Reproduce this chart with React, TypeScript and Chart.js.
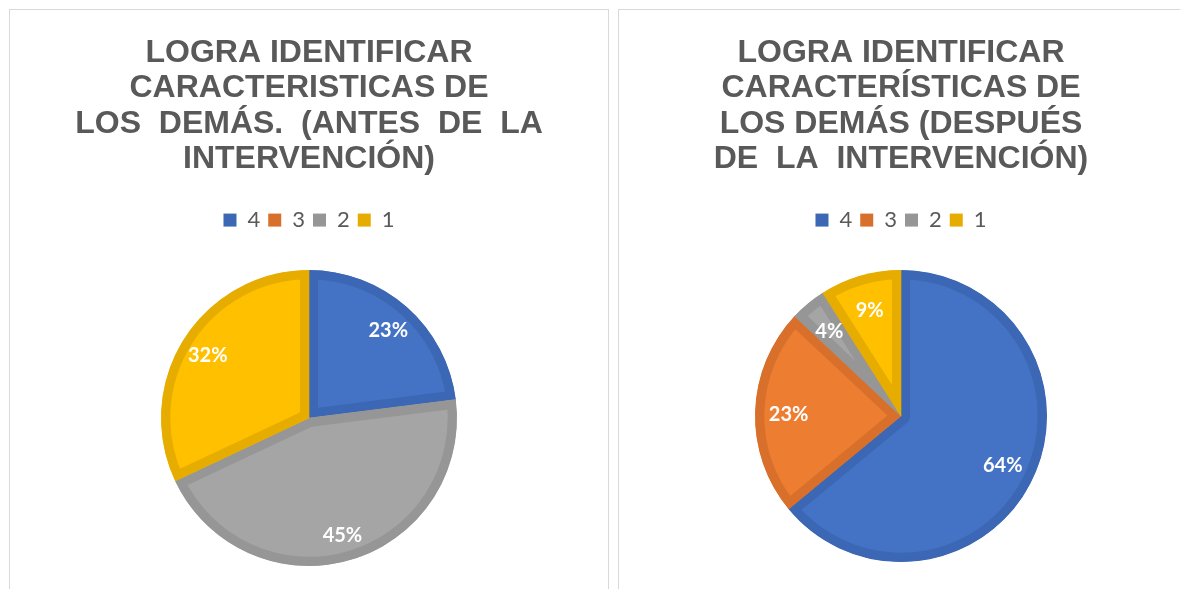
import React, { useEffect, useRef } from "react";
import { Chart, registerables } from "chart.js";

Chart.register(...registerables);

// ---- data ----
const categories = ["4", "3", "2", "1"];
const beforeValues = [23, 0, 45, 32];
const afterValues = [64, 23, 4, 9];
const beforeTitle = [
  "LOGRA IDENTIFICAR",
  "CARACTERISTICAS DE",
  "LOS  DEMÁS.  (ANTES  DE  LA",
  "INTERVENCIÓN)",
];
const afterTitle = [
  "LOGRA IDENTIFICAR",
  "CARACTERÍSTICAS DE",
  "LOS DEMÁS (DESPUÉS",
  "DE  LA  INTERVENCIÓN)",
];

// ---- styles ----
const fillColors = ["#4472C4", "#ED7D31", "#A5A5A5", "#FFC000"];
const borderColors = ["#3C67B4", "#D8702C", "#969696", "#E6AD00"];
const textGray = "#595959";

type PieProps = {
  values: number[];
  title: string[];
  radius: number;
  labelFactor: number;
  padBottom: number;
};

function PieChart({ values, title, radius, labelFactor, padBottom }: PieProps) {
  const ref = useRef<HTMLCanvasElement | null>(null);

  useEffect(() => {
    if (!ref.current) return;
    const labelPlugin = {
      id: "pctLabels",
      afterDatasetsDraw(chart: any) {
        const ctx = chart.ctx;
        const meta = chart.getDatasetMeta(0);
        const data = chart.data.datasets[0].data as number[];
        ctx.save();
        ctx.font = "bold 20px Lato";
        ctx.fillStyle = "#ffffff";
        ctx.textAlign = "center";
        ctx.textBaseline = "middle";
        meta.data.forEach((arc: any, i: number) => {
          const v = data[i];
          if (!v) return;
          const p = arc.getProps(["x", "y", "startAngle", "endAngle", "outerRadius"], true);
          const mid = (p.startAngle + p.endAngle) / 2;
          const r = p.outerRadius * labelFactor;
          ctx.fillText(v + "%", p.x + Math.cos(mid) * r, p.y + Math.sin(mid) * r + 2);
        });
        ctx.restore();
      },
    };

    const chart = new Chart(ref.current, {
      type: "pie",
      data: {
        labels: categories,
        datasets: [
          {
            data: values,
            backgroundColor: fillColors,
            borderColor: borderColors,
            borderWidth: 9,
            borderAlign: "inner",
            radius: radius,
          } as any,
        ],
      },
      options: {
        animation: false,
        responsive: true,
        maintainAspectRatio: false,
        events: [],
        layout: { padding: { top: 0, bottom: padBottom, left: 0, right: 0 } },
        plugins: {
          tooltip: { enabled: false },
          title: {
            display: true,
            text: title,
            color: textGray,
            font: { family: "'Liberation Sans', Arial, sans-serif", size: 32, weight: "bold", lineHeight: 1.11 },
            padding: { top: 25, bottom: 24 },
          },
          legend: {
            display: true,
            position: "top",
            labels: {
              boxWidth: 13,
              boxHeight: 13,
              color: textGray,
              padding: 8,
              font: { family: "Lato, sans-serif", size: 22 },
              generateLabels: () =>
                categories.map((c, i) => ({
                  text: c,
                  fillStyle: borderColors[i],
                  strokeStyle: borderColors[i],
                  lineWidth: 0,
                  hidden: false,
                  index: i,
                  fontColor: textGray,
                })),
            },
          },
        },
      },
      plugins: [labelPlugin],
    });
    return () => chart.destroy();
  }, [values, title, radius, labelFactor, padBottom]);

  return (
    <div style={{ position: "relative", width: "100%", height: "100%" }}>
      <canvas ref={ref} />
    </div>
  );
}

export default function App() {
  const panel: React.CSSProperties = {
    position: "absolute",
    top: 9,
    height: 620,
    border: "1px solid #D9D9D9",
    boxSizing: "border-box",
    background: "#ffffff",
  };
  return (
    <div
      style={{
        position: "fixed",
        left: 0,
        top: 0,
        width: 1180,
        height: 589,
        overflow: "hidden",
        background: "#ffffff",
      }}
    >
      <div style={{ ...panel, left: 9, width: 600 }}>
        <PieChart values={beforeValues} title={beforeTitle} radius={148} labelFactor={0.81} padBottom={33} />
      </div>
      <div style={{ ...panel, left: 618, width: 566 }}>
        <PieChart values={afterValues} title={afterTitle} radius={146} labelFactor={0.77} padBottom={37} />
      </div>
    </div>
  );
}
